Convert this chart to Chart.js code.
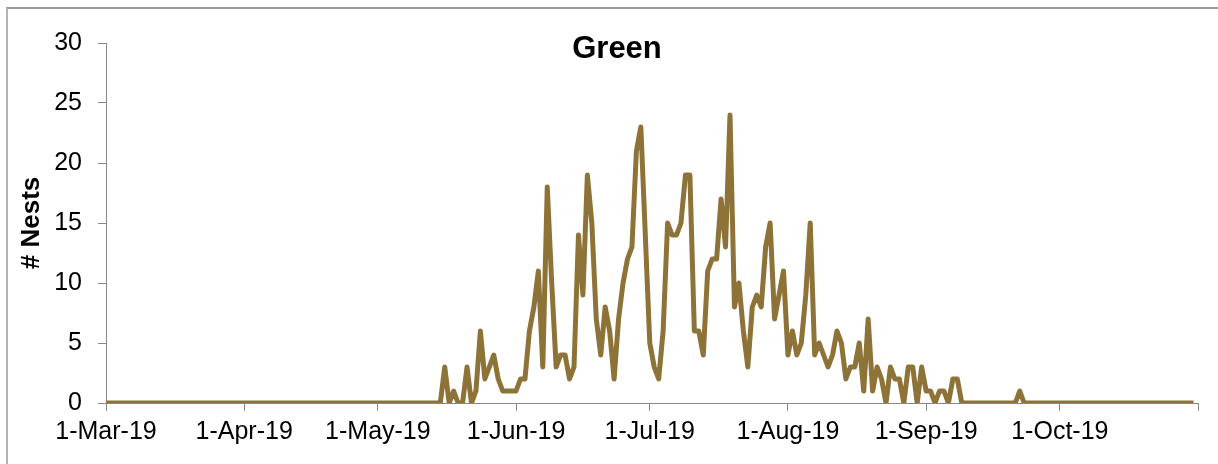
<!DOCTYPE html>
<html>
<head>
<meta charset="utf-8">
<script src="https://cdn.jsdelivr.net/npm/chart.js@4/dist/chart.umd.min.js"></script>
<style>
  body { margin: 0; background: #fff; overflow: hidden; }
  #wrap { position: relative; width: 1218px; height: 464px; }
  #frame { position: absolute; left: 6px; top: 7px; width: 1300px; height: 500px;
           border-left: 2px solid #b4b4b4; border-top: 2px solid #9a9a9a; }
  canvas { position: absolute; left: 0; top: 0; }
</style>
</head>
<body>
<div id="wrap">
  <div id="frame"></div>
  <canvas id="myChart" width="1218" height="464"></canvas>
</div>
<script>
// daily nest counts, one value per day starting 1-Mar-19
const startDay = '1-Mar-19';
const nests = [
  0,0,0,0,0,0,0,0,0,0,
  0,0,0,0,0,0,0,0,0,0,
  0,0,0,0,0,0,0,0,0,0,
  0,0,0,0,0,0,0,0,0,0,
  0,0,0,0,0,0,0,0,0,0,
  0,0,0,0,0,0,0,0,0,0,
  0,0,0,0,0,0,0,0,0,0,
  0,0,0,0,0,0,3,0,1,0,
  0,3,0,1,6,2,3,4,2,1,
  1,1,1,2,2,6,8,11,3,18,
  10,3,4,4,2,3,14,9,19,15,
  7,4,8,6,2,7,10,12,13,21,
  23,14,5,3,2,6,15,14,14,15,
  19,19,6,6,4,11,12,12,17,13,
  24,8,10,6,3,8,9,8,13,15,
  7,9,11,4,6,4,5,9,15,4,
  5,4,3,4,6,5,2,3,3,5,
  1,7,1,3,2,0,3,2,2,0,
  3,3,0,3,1,1,0,1,1,0,
  2,2,0,0,0,0,0,0,0,0,
  0,0,0,0,0,1,0,0,0,0,
  0,0,0,0,0,0,0,0,0,0,
  0,0,0,0,0,0,0,0,0,0,
  0,0,0,0,0,0,0,0,0,0,
  0,0,0,0,0
];

// tick positions = days since 1-Mar-19
const monthTicks = [0, 31, 61, 92, 122, 153, 184, 214, 245];
const monthLabels = ['1-Mar-19','1-Apr-19','1-May-19','1-Jun-19','1-Jul-19','1-Aug-19','1-Sep-19','1-Oct-19',''];
const yTicks = [0, 5, 10, 15, 20, 25, 30];

const fontFam = '"Liberation Sans", Arial, sans-serif';

const points = nests.map(function(v, i){ return {x: i, y: v}; });

const titlePlugin = {
  id: 'overlayTitle',
  afterDraw: function(chart){
    const ctx = chart.ctx;
    ctx.save();
    ctx.font = 'bold 31px ' + fontFam;
    ctx.fillStyle = '#000';
    ctx.textAlign = 'center';
    ctx.textBaseline = 'middle';
    ctx.fillText('Green', 617, 49);
    ctx.restore();
  }
};

const config = {
  type: 'line',
  data: {
    datasets: [{
      label: 'Green',
      data: points,
      borderColor: '#8E7339',
      backgroundColor: '#8E7339',
      borderWidth: 5,
      borderJoinStyle: 'round',
      borderCapStyle: 'butt',
      pointRadius: 0,
      tension: 0,
      fill: false
    }]
  },
  options: {
    responsive: false,
    animation: false,
    layout: { padding: { left: 0, top: 43, right: 20, bottom: 0 } },
    plugins: {
      legend: { display: false },
      tooltip: { enabled: false },
      title: { display: false }
    },
    scales: {
      x: {
        type: 'linear',
        min: 0,
        max: 245,
        afterFit: function(scale){ scale.height = 61; },
        afterBuildTicks: function(scale){
          scale.ticks = monthTicks.map(function(v){ return {value: v}; });
        },
        ticks: {
          autoSkip: false,
          maxRotation: 0,
          padding: 6,
          color: '#000',
          font: { family: fontFam, size: 25 },
          callback: function(v){ return monthLabels[monthTicks.indexOf(v)]; }
        },
        grid: { drawOnChartArea: false, drawTicks: true, tickLength: 8, color: '#888', lineWidth: 1 },
        border: { color: '#888', width: 1 }
      },
      y: {
        min: 0,
        max: 30,
        afterFit: function(scale){ scale.width = 106; },
        afterBuildTicks: function(scale){
          scale.ticks = yTicks.map(function(v){ return {value: v}; });
        },
        ticks: {
          padding: 16,
          color: '#000',
          font: { family: fontFam, size: 25 }
        },
        grid: { drawOnChartArea: false, drawTicks: true, tickLength: 8, color: '#888', lineWidth: 1 },
        border: { color: '#888', width: 1 },
        title: {
          display: true,
          text: '# Nests',
          color: '#000',
          font: { family: fontFam, size: 26, weight: 'bold' },
          padding: { top: 16, bottom: 0 }
        }
      }
    }
  },
  plugins: [titlePlugin]
};

const myChart = new Chart(document.getElementById('myChart'), config);
</script>
</body>
</html>
